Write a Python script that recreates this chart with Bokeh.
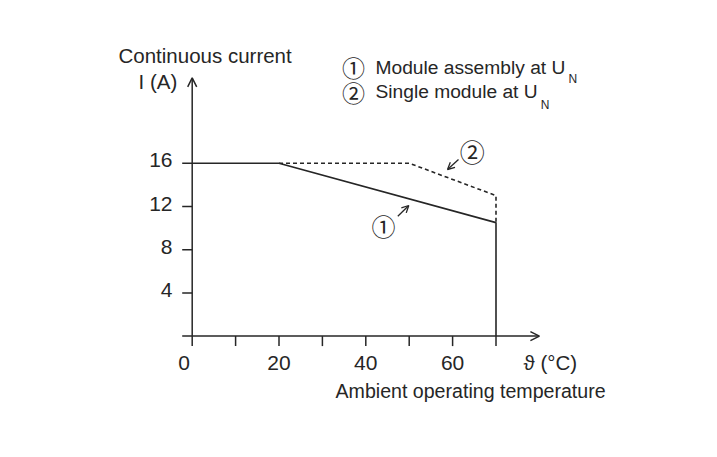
from bokeh.plotting import figure
from bokeh.models import Range1d, Label, Arrow, OpenHead
from bokeh.core.properties import value
from bokeh.embed import file_html
from bokeh.resources import INLINE

# ---- data ----
x_ticks = [0, 10, 20, 30, 40, 50, 60, 70]
x_label_ticks = [0, 20, 40, 60]
x_label_text = ["0", "20", "40", "60"]
y_ticks = [0, 4, 8, 12, 16]
y_label_ticks = [4, 8, 12, 16]
y_label_text = ["4", "8", "12", "16"]

# curve 1: module assembly at U_N (solid)
t_assembly = [0, 20, 70, 70]
i_assembly = [16, 16, 10.5, 0]
# curve 2: single module at U_N (dashed)
t_single = [20, 50, 70, 70]
i_single = [16, 16, 13, 10.5]

X_END = 80      # end of temperature axis (arrow)
Y_END = 23.9    # end of current axis (arrow)

# ---- layout constants (pixels) ----
W, H = 709, 449
OX, OY = 191.7, 335.6      # pixel position of the origin
SX, SY = 4.34, 10.806      # pixels per data unit
TICK = 10

INK = "#262626"
FONT = "Liberation Sans"
CIRC = "Noto Sans CJK JP"

def px(xp):
    return (xp - OX) / SX

def py(yp):
    return (OY - yp) / SY

p = figure(width=W, height=H,
           x_range=Range1d(px(0), px(W)), y_range=Range1d(py(H), py(0)),
           x_axis_type=None, y_axis_type=None,
           output_backend="svg", toolbar_location=None,
           min_border=0, background_fill_color="white",
           border_fill_color="white", outline_line_color=None)
p.grid.visible = False

# axes with arrow heads
p.add_layout(Arrow(end=OpenHead(size=9, line_width=1.5, line_color=INK),
                   x_start=0, y_start=0, x_end=X_END, y_end=0,
                   line_width=1.5, line_color=INK))
p.add_layout(Arrow(end=OpenHead(size=9, line_width=1.5, line_color=INK),
                   x_start=0, y_start=0, x_end=0, y_end=Y_END,
                   line_width=1.5, line_color=INK))

# ticks
p.segment(x0=x_ticks, y0=[0] * len(x_ticks), x1=x_ticks,
          y1=[-TICK / SY] * len(x_ticks), line_color=INK, line_width=1.5)
p.segment(x0=[-TICK / SX] * len(y_ticks), y0=y_ticks, x1=[0] * len(y_ticks),
          y1=y_ticks, line_color=INK, line_width=1.5)

# tick labels (the "0" sits a little left of the vertical axis)
p.text(x=x_label_ticks, y=[py(362)] * len(x_label_ticks), text=x_label_text,
       x_offset=[-8, 0, 0, 0],
       text_font=value(FONT), text_font_size="21px", text_color=INK,
       text_align="center", text_baseline="middle")
p.text(x=[px(172)] * len(y_label_ticks), y=[t + 2.8 / SY for t in y_label_ticks],
       text=y_label_text, text_font=value(FONT), text_font_size="21px",
       text_color=INK, text_align="right", text_baseline="middle")

# curves
p.line(t_assembly, i_assembly, line_color=INK, line_width=1.6)
p.line(t_single, i_single, line_color=INK, line_width=1.6, line_dash="4 3")

def lab(xp, yp, text, size="20px", align="left", font=FONT):
    # yp is the visual middle of the text, in pixels
    p.add_layout(Label(x=px(xp), y=py(yp), text=text, text_font=font,
                       text_font_size=size, text_color=INK,
                       text_align=align, text_baseline="middle"))

# axis titles
lab(118, 54.5, "Continuous current", size="20.5px")
lab(138, 81, "I (A)", size="20.5px")
lab(523, 362, "ϑ (°C)", size="20.5px")
lab(335, 390.5, "Ambient operating temperature", size="19.6px")

# legend
LEG = 19.2
lab(353, 66, "①", size="23px", align="center", font=CIRC)
lab(375, 66.5, "Module assembly at U", size=f"{LEG}px")
lab(375 + 9.892 * LEG + 3, 78, "N", size="12px")
lab(353, 91, "②", size="23px", align="center", font=CIRC)
lab(375, 90.5, "Single module at U", size=f"{LEG}px")
lab(375 + 8.448 * LEG + 3, 104, "N", size="12px")

# curve markers
lab(471.7, 150, "②", size="25px", align="center", font=CIRC)
p.add_layout(Arrow(end=OpenHead(size=7, line_width=1.3, line_color=INK),
                   x_start=px(458), y_start=py(159), x_end=px(447), y_end=py(169),
                   line_width=1.3, line_color=INK))
lab(383, 225, "①", size="24px", align="center", font=CIRC)
p.add_layout(Arrow(end=OpenHead(size=7, line_width=1.3, line_color=INK),
                   x_start=px(397.3), y_start=py(215.7), x_end=px(408.3), y_end=py(205),
                   line_width=1.3, line_color=INK))

open("out.html", "w").write(file_html(p, INLINE))
